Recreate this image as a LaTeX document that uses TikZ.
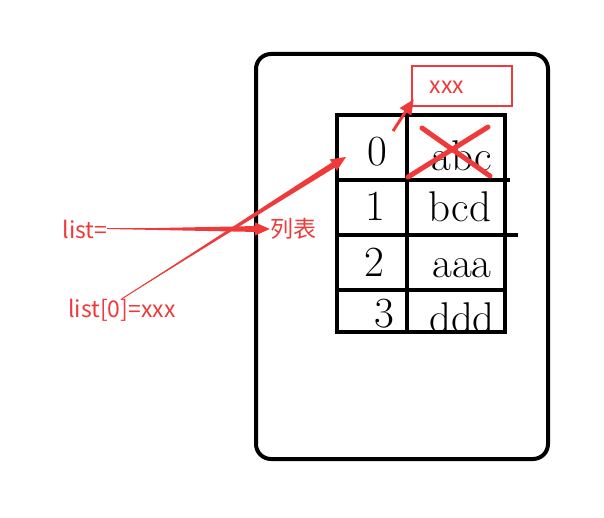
\documentclass[tikz,border=0pt]{standalone}
\usepackage{fontspec}
\newfontfamily\cjk{Noto Sans CJK SC}
\usetikzlibrary{arrows.meta,calc}
\definecolor{pen}{RGB}{238,58,58}

\begin{document}
\begin{tikzpicture}[x=1pt,y=-1pt]
\tikzset{
  num/.style={font=\fontsize{43}{43}\selectfont,inner sep=0pt},
  lbl/.style={font=\cjk\fontsize{23}{23}\selectfont,text=pen,inner sep=0pt},
  grid/.style={line width=3.5pt,draw=black},
  box/.style={draw=pen,line width=2.5pt,minimum width=100pt,minimum height=40pt,inner sep=0pt},
  arr/.style={-{Triangle[length=15pt,width=13pt]},line width=3pt,draw=pen},
  thin/.style={-{Triangle[length=15pt,width=13pt]},line width=1pt,draw=pen},
  cross/.style={line width=5pt,draw=pen,line cap=round}
}
\useasboundingbox (0,0) rectangle (604,518);
\draw[line width=4pt,rounded corners=15pt](256,54) rectangle (548,459);
% table
\draw[grid](337,115) rectangle (505,332);
\draw[grid](407,115) -- (407,332);
\draw[grid](337,180) -- (510,180);
\draw[grid](337,235) -- (518,235);
\draw[grid](337,290) -- (505,290);
\node(i0)[num] at (377,152){0};
\node(i1)[num] at (375,206){1};
\node(i2)[num] at (374,262){2};
\node(i3)[num] at (384,314){3};
\node(v0)[num] at (462,156){abc};
\node(v1)[num] at (460,207){bcd};
\node(v2)[num] at (462,268){aaa};
\node(v3)[num] at (462,318){ddd};
% new value
\node(xb)[box] at (462,86){};
\node(xt)[lbl] at (447,87){xxx};
\draw[cross](422,128) -- (490,176);
\draw[cross](488,127) -- (408,177);
% labels
\node(ls)[lbl] at (85,229){list=};
\node(li)[lbl] at (122,310){list[0]=xxx};
\node(lb)[lbl] at (293,229){列表};
\coordinate(p0) at (346,157);
\coordinate(q0) at (393,131);
% tapered arrows
\coordinate(e1) at ($(lb.west)!12pt!(ls.east)$);
\fill[pen](ls.east) -- ($(e1)!3pt!90:(ls.east)$) -- ($(e1)!3pt!-90:(ls.east)$) -- cycle;
\draw[thin](ls.east) -- (lb.west);
\coordinate(e2) at ($(p0)!12pt!(li.north)$);
\fill[pen](li.north) -- ($(e2)!3pt!90:(li.north)$) -- ($(e2)!3pt!-90:(li.north)$) -- cycle;
\draw[thin](li.north) -- (p0);
\draw[arr](q0) -- ($(xb.south west)+(3,-8)$);
\end{tikzpicture}
\end{document}
